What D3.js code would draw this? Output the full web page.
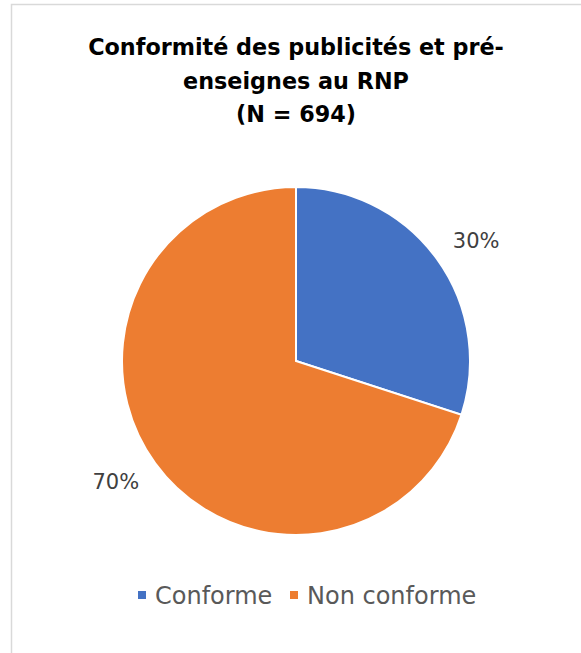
<!DOCTYPE html>
<html><head><meta charset="utf-8">
<script src="https://cdn.jsdelivr.net/npm/d3@7/dist/d3.min.js"></script>
<style>body{margin:0;background:#fff}svg{display:block}</style>
</head><body>
<script>
const categories = ["Conforme", "Non conforme"];
const values = [30, 70];
const colors = ["#4472C4", "#ED7D31"];
const titleLines = ["Conformité des publicités et pré-", "enseignes au RNP", "(N = 694)"];

const W = 581, H = 653;
const svg = d3.select("body").append("svg").attr("width", W).attr("height", H);
svg.append("rect").attr("x", 11.5).attr("y", 4.5).attr("width", 580).attr("height", 700)
  .attr("fill", "#fff").attr("stroke", "#d9d9d9").attr("stroke-width", 1.5);

const font = "'Century Gothic', 'URW Gothic', 'DejaVu Sans', sans-serif";
svg.append("g").selectAll("text").data(titleLines).join("text")
  .attr("x", 296).attr("y", (d, i) => 55 + i * 33.5)
  .attr("text-anchor", "middle").attr("font-family", font)
  .attr("font-weight", "bold").attr("font-size", 22.3).attr("fill", "#000")
  .text(d => d);

const cx = 296, cy = 361, r = 174;
const pie = d3.pie().sort(null).value(d => d.v);
const data = pie(categories.map((c, i) => ({c, v: values[i], col: colors[i]})));
const arc = d3.arc().innerRadius(0).outerRadius(r);
const g = svg.append("g").attr("transform", `translate(${cx},${cy})`);
g.selectAll("path").data(data).join("path")
  .attr("d", arc).attr("fill", d => d.data.col)
  .attr("stroke", "#fff").attr("stroke-width", 2);

const total = d3.sum(values);
const labelR = r * 1.245;
g.selectAll("text.lbl").data(data).join("text").attr("class", "lbl")
  .attr("transform", d => {
    const a = (d.startAngle + d.endAngle) / 2 + 0.04;
    return `translate(${labelR * Math.sin(a)},${-labelR * Math.cos(a)})`;
  })
  .attr("text-anchor", "middle").attr("dy", "0.36em")
  .attr("font-family", font).attr("font-size", 21).attr("fill", "#404040")
  .text(d => Math.round(d.data.v / total * 100) + "%");

const legend = svg.append("g").attr("transform", "translate(0,604)");
const lx = [138, 290];
const items = legend.selectAll("g").data(categories).join("g")
  .attr("transform", (d, i) => `translate(${lx[i]},0)`);
items.append("rect").attr("x", 0).attr("y", -13).attr("width", 8).attr("height", 8)
  .attr("fill", (d, i) => colors[i]);
items.append("text").attr("x", 17).attr("y", 0)
  .attr("font-family", font).attr("font-size", 24).attr("fill", "#595959")
  .text(d => d);
</script>
</body></html>
